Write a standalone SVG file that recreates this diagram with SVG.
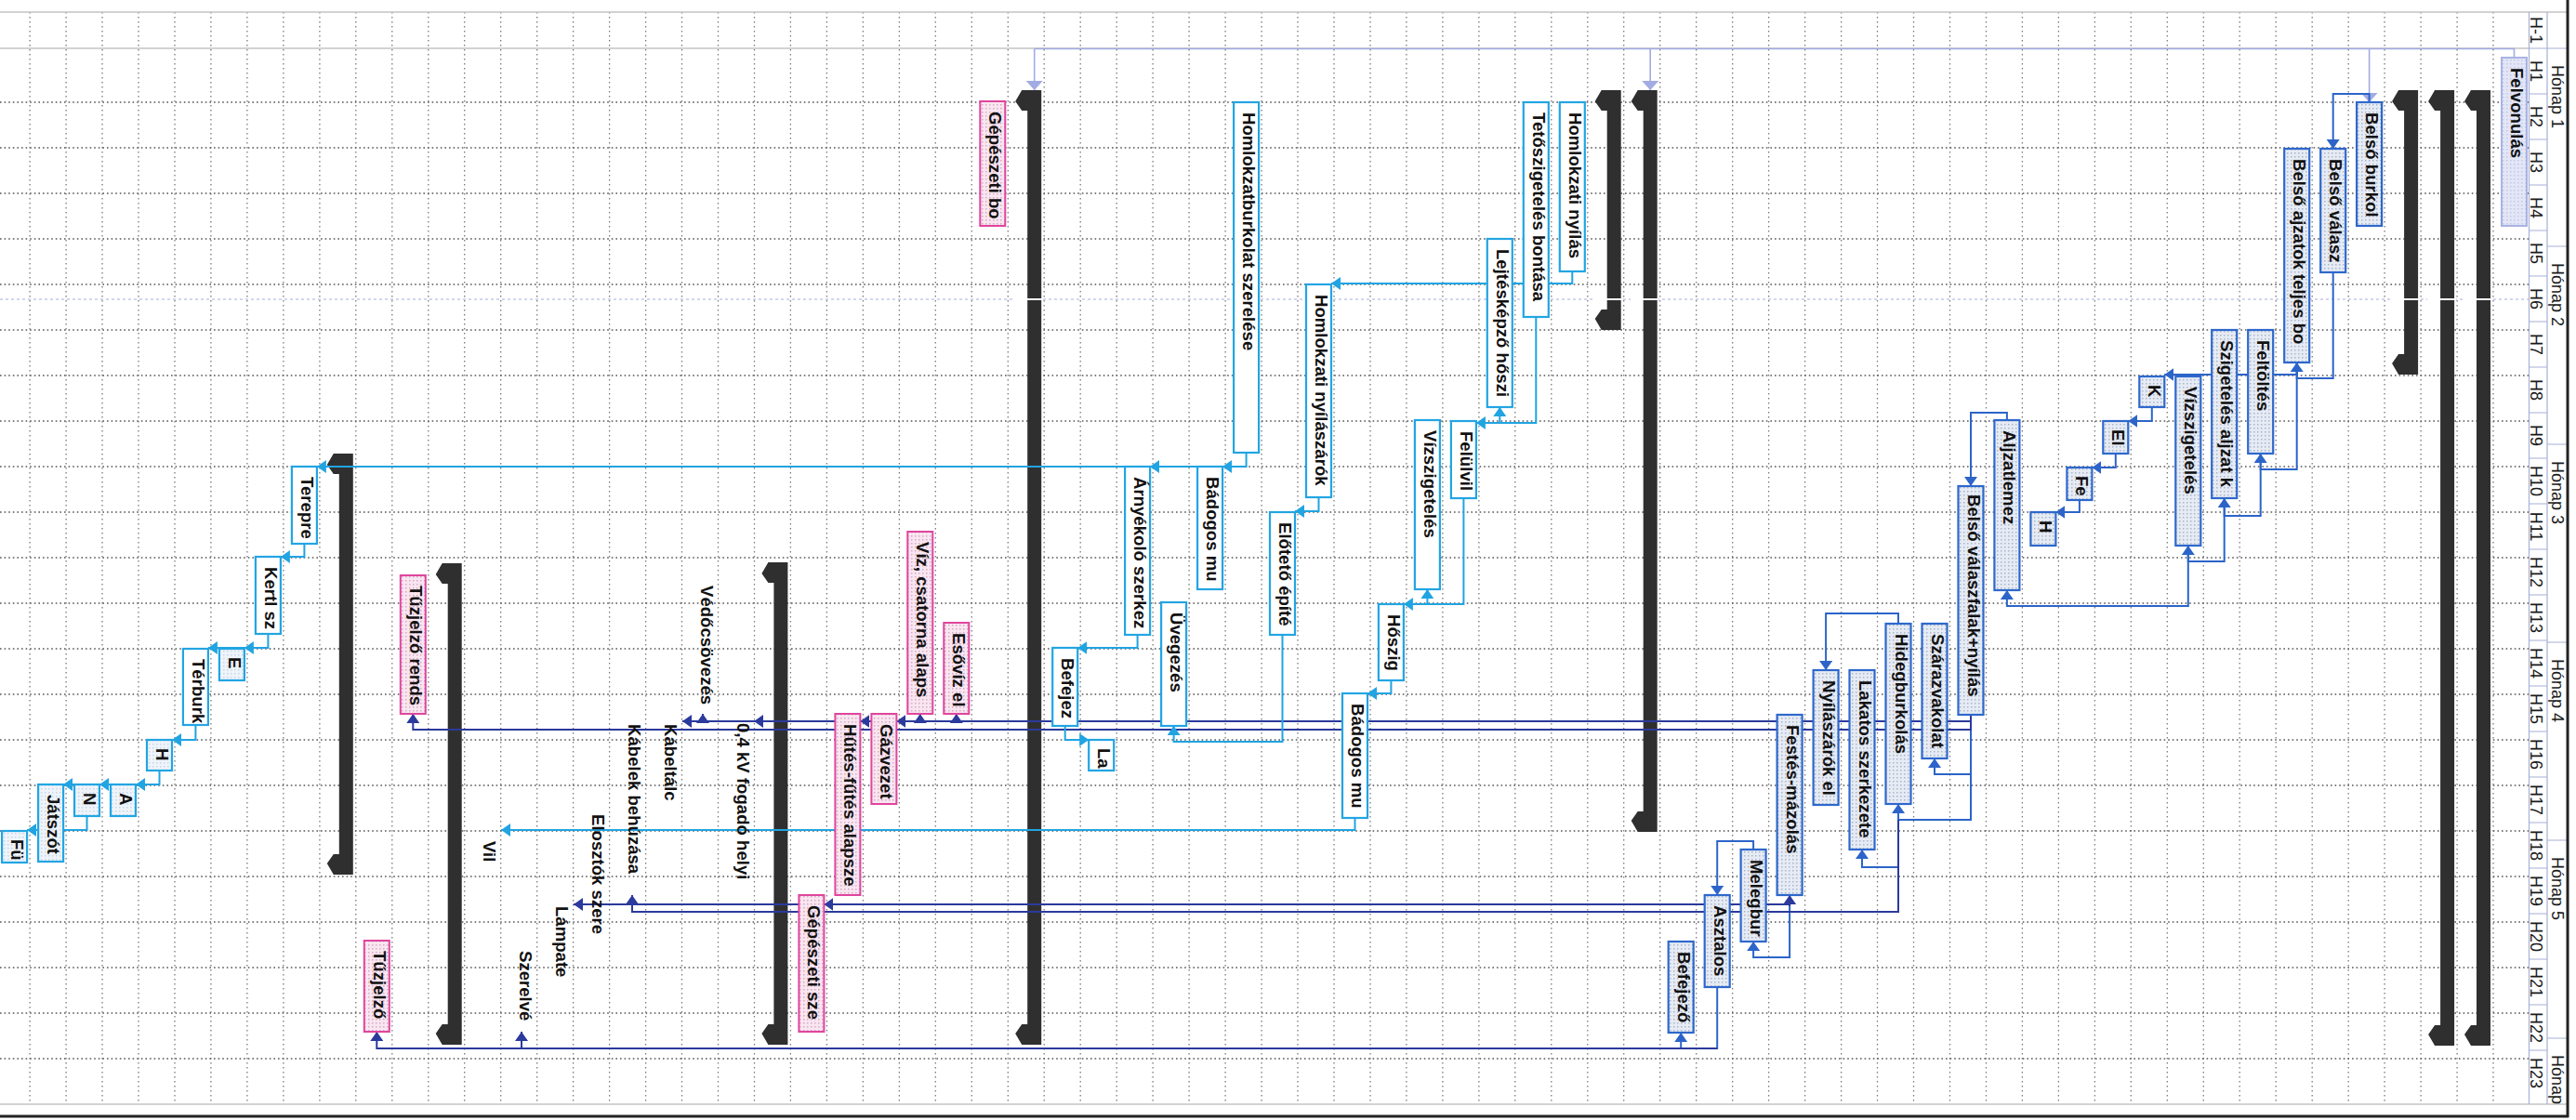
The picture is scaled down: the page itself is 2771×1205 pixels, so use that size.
<svg xmlns="http://www.w3.org/2000/svg" width="2771" height="1205" viewBox="0 0 2771 1205">
<style>
.t{font-family:"Liberation Sans",Arial,sans-serif;font-weight:bold;font-size:18.6px;fill:#111}
.hd{font-family:"Liberation Sans",Arial,sans-serif;font-size:18px;fill:#1a1a1a}
.bb{fill:url(#pb);stroke:#2e68cc;stroke-width:2.2}
.bc{fill:#fff;stroke:#22a5e3;stroke-width:2.2}
.bc2{fill:url(#pc);stroke:#22a5e3;stroke-width:2.2}
.bp{fill:url(#pp);stroke:#e0459e;stroke-width:2}
.bl{fill:url(#pl);stroke:#a9b3e4;stroke-width:2}
.sum{fill:#2f2f2f}
.gv{fill:none;stroke:#7a7a7a;stroke-width:1.3;stroke-dasharray:1.5 3.5}
.gh{fill:none;stroke:#555;stroke-width:1.4;stroke-dasharray:1.6 3}
.hl{fill:none;stroke:#a7b0d8;stroke-width:1.2}
.cb{fill:none;stroke:#2c64c9;stroke-width:2;marker-end:url(#mb)}
.cc{fill:none;stroke:#20a4e2;stroke-width:2;marker-end:url(#mc)}
.cn{fill:none;stroke:#2b3a9c;stroke-width:2;marker-end:url(#mn)}
.cl{fill:none;stroke:#a3abe3;stroke-width:1.6;marker-end:url(#ml)}
</style>
<defs>
<pattern id="pb" width="4" height="4" patternUnits="userSpaceOnUse"><rect width="4" height="4" fill="#e6ebf4"/><rect width="1.5" height="1.5" fill="#aab6cc"/></pattern>
<pattern id="pc" width="4" height="4" patternUnits="userSpaceOnUse"><rect width="4" height="4" fill="#eef4fa"/><rect width="1.5" height="1.5" fill="#c8d6e6"/></pattern>
<pattern id="pp" width="4" height="4" patternUnits="userSpaceOnUse"><rect width="4" height="4" fill="#f8e6f0"/><rect width="1.5" height="1.5" fill="#d9a9c4"/></pattern>
<pattern id="pl" width="4" height="4" patternUnits="userSpaceOnUse"><rect width="4" height="4" fill="#e3e6f6"/><rect width="1.5" height="1.5" fill="#c2c8e6"/></pattern>
<marker id="mb" viewBox="0 0 10 14" refX="10" refY="7" markerWidth="10" markerHeight="14" markerUnits="userSpaceOnUse" orient="auto"><path d="M0,0L10,7L0,14z" fill="#2c64c9"/></marker>
<marker id="mc" viewBox="0 0 10 14" refX="10" refY="7" markerWidth="10" markerHeight="14" markerUnits="userSpaceOnUse" orient="auto"><path d="M0,0L10,7L0,14z" fill="#20a4e2"/></marker>
<marker id="mn" viewBox="0 0 10 14" refX="10" refY="7" markerWidth="10" markerHeight="14" markerUnits="userSpaceOnUse" orient="auto"><path d="M0,0L10,7L0,14z" fill="#2b3a9c"/></marker>
<marker id="ml" viewBox="0 0 10 18" refX="10" refY="9" markerWidth="10" markerHeight="18" markerUnits="userSpaceOnUse" orient="auto"><path d="M0,0L10,9L0,18z" fill="#a3abe3"/></marker>
</defs>
<rect width="2771" height="1205" fill="#fff"/>
<g id="grid">
<path class="gv" d="M2682.0,13V1188M2643.1,13V1188M2604.1,13V1188M2565.1,13V1188M2526.2,13V1188M2487.2,13V1188M2448.2,13V1188M2409.2,13V1188M2370.3,13V1188M2331.3,13V1188M2292.3,13V1188M2253.4,13V1188M2214.4,13V1188M2175.4,13V1188M2136.5,13V1188M2097.5,13V1188M2058.5,13V1188M2019.5,13V1188M1980.6,13V1188M1941.6,13V1188M1902.6,13V1188M1863.7,13V1188M1824.7,13V1188M1785.7,13V1188M1746.7,13V1188M1707.8,13V1188M1668.8,13V1188M1629.8,13V1188M1590.9,13V1188M1551.9,13V1188M1512.9,13V1188M1474.0,13V1188M1435.0,13V1188M1396.0,13V1188M1357.1,13V1188M1318.1,13V1188M1279.1,13V1188M1240.1,13V1188M1201.2,13V1188M1162.2,13V1188M1123.2,13V1188M1084.3,13V1188M1045.3,13V1188M1006.3,13V1188M967.4,13V1188M928.4,13V1188M889.4,13V1188M850.4,13V1188M811.5,13V1188M772.5,13V1188M733.5,13V1188M694.6,13V1188M655.6,13V1188M616.6,13V1188M577.7,13V1188M538.7,13V1188M499.7,13V1188M460.8,13V1188M421.8,13V1188M382.8,13V1188M343.9,13V1188M304.9,13V1188M265.9,13V1188M226.9,13V1188M188.0,13V1188M149.0,13V1188M110.0,13V1188M71.1,13V1188M32.1,13V1188"/>
<path class="gh" d="M0,110H2720M0,159H2720M0,208H2720M0,257H2720M0,306H2720M0,355H2720M0,404H2720M0,453H2720M0,502H2720M0,551H2720M0,600H2720M0,649H2720M0,698H2720M0,747H2720M0,796H2720M0,845H2720M0,894H2720M0,943H2720M0,992H2720M0,1041H2720M0,1090H2720M0,1139H2720"/>
<path d="M0,13H2762M0,52H2720M0,1188H2762" fill="none" stroke="#c4c4c4" stroke-width="1.4"/>
<path d="M0,322H2720" fill="none" stroke="#c3c9e6" stroke-width="1.4" stroke-dasharray="3 3"/>
</g>
<g id="header">
<path class="hl" d="M2720.5,13V1188M2740,13V1188M2720.5,52H2740M2720.5,101H2740M2720.5,150H2740M2720.5,199H2740M2720.5,248H2740M2720.5,297H2740M2720.5,346H2740M2720.5,395H2740M2720.5,444H2740M2720.5,493H2740M2720.5,542H2740M2720.5,591H2740M2720.5,640H2740M2720.5,689H2740M2720.5,738H2740M2720.5,787H2740M2720.5,836H2740M2720.5,885H2740M2720.5,934H2740M2720.5,983H2740M2720.5,1032H2740M2720.5,1081H2740M2720.5,1130H2740M2740,52H2762M2740,265H2762M2740,478H2762M2740,691H2762M2740,904H2762M2740,1117H2762"/>
<g class="hd" text-anchor="middle">
<text transform="translate(2721.5,32.5) rotate(90)">H-1</text>
<text transform="translate(2721.5,76.5) rotate(90)">H1</text>
<text transform="translate(2721.5,125.5) rotate(90)">H2</text>
<text transform="translate(2721.5,174.5) rotate(90)">H3</text>
<text transform="translate(2721.5,223.5) rotate(90)">H4</text>
<text transform="translate(2721.5,272.5) rotate(90)">H5</text>
<text transform="translate(2721.5,321.5) rotate(90)">H6</text>
<text transform="translate(2721.5,370.5) rotate(90)">H7</text>
<text transform="translate(2721.5,419.5) rotate(90)">H8</text>
<text transform="translate(2721.5,468.5) rotate(90)">H9</text>
<text transform="translate(2721.5,517.5) rotate(90)">H10</text>
<text transform="translate(2721.5,566.5) rotate(90)">H11</text>
<text transform="translate(2721.5,615.5) rotate(90)">H12</text>
<text transform="translate(2721.5,664.5) rotate(90)">H13</text>
<text transform="translate(2721.5,713.5) rotate(90)">H14</text>
<text transform="translate(2721.5,762.5) rotate(90)">H15</text>
<text transform="translate(2721.5,811.5) rotate(90)">H16</text>
<text transform="translate(2721.5,860.5) rotate(90)">H17</text>
<text transform="translate(2721.5,909.5) rotate(90)">H18</text>
<text transform="translate(2721.5,958.5) rotate(90)">H19</text>
<text transform="translate(2721.5,1007.5) rotate(90)">H20</text>
<text transform="translate(2721.5,1056.5) rotate(90)">H21</text>
<text transform="translate(2721.5,1105.5) rotate(90)">H22</text>
<text transform="translate(2721.5,1154.5) rotate(90)">H23</text>
</g>
<g class="hd">
<text transform="translate(2744.5,70) rotate(90)">Hónap 1</text>
<text transform="translate(2744.5,283) rotate(90)">Hónap 2</text>
<text transform="translate(2744.5,496) rotate(90)">Hónap 3</text>
<text transform="translate(2744.5,709) rotate(90)">Hónap 4</text>
<text transform="translate(2744.5,922) rotate(90)">Hónap 5</text>
<text transform="translate(2744.5,1135) rotate(90)">Hónap</text>
</g>
<path d="M2762,0V1202M0,1201H2763" fill="none" stroke="#222" stroke-width="3"/>
</g>
<g id="summaries">
<polygon id="s1" class="sum" points="2679,97 2658,97 2651,109 2658,119 2664,119 2664,1103 2658,1103 2651,1113 2658,1125 2679,1125"/>
<polygon id="s2" class="sum" points="2640.1,97 2619.1,97 2612.1,109 2619.1,119 2625.1,119 2625.1,1103 2619.1,1103 2612.1,1113 2619.1,1125 2640.1,1125"/>
<polygon id="s3" class="sum" points="2601.1,97 2580.1,97 2573.1,109 2580.1,119 2586.1,119 2586.1,381 2580.1,381 2573.1,391 2580.1,403 2601.1,403"/>
<polygon id="s24" class="sum" points="1782.7,97 1761.7,97 1754.7,109 1761.7,119 1767.7,119 1767.7,873 1761.7,873 1754.7,883 1761.7,895 1782.7,895"/>
<polygon id="s25" class="sum" points="1743.7,97 1722.7,97 1715.7,109 1722.7,119 1728.7,119 1728.7,333 1722.7,333 1715.7,343 1722.7,355 1743.7,355"/>
<polygon id="s41" class="sum" points="1120.2,97 1099.2,97 1092.2,109 1099.2,119 1105.2,119 1105.2,1102 1099.2,1102 1092.2,1112 1099.2,1124 1120.2,1124"/>
<polygon id="s48" class="sum" points="847.4,605 826.4,605 819.4,617 826.4,627 832.4,627 832.4,1102 826.4,1102 819.4,1112 826.4,1124 847.4,1124"/>
<polygon id="s57" class="sum" points="496.7,606 475.7,606 468.7,618 475.7,628 481.7,628 481.7,1102 475.7,1102 468.7,1112 475.7,1124 496.7,1124"/>
<polygon id="s60" class="sum" points="379.8,488 358.8,488 351.8,500 358.8,510 364.8,510 364.8,919 358.8,919 351.8,929 358.8,941 379.8,941"/>
<path d="M2650,322H2681M2611,322H2642M2572,322H2603M1754,322H1784M1715,322H1745M1091,322H1122" stroke="#fff" stroke-width="2.2"/>
</g>
<g id="connectors">
<path d="M2704.5,62V52.5H1112.7" fill="none" stroke="#a3abe3" stroke-width="1.6"/>
<path class="cl" d="M2548.6,52.5V110"/>
<path class="cl" d="M1775.2,52.5V97"/>
<path class="cl" d="M1112.7,52.5V97"/>
<path class="cb" d="M2548.6,110V101H2509.7V160"/>
<path class="cb" d="M2509.7,293V407H2470.7V390"/>
<path class="cb" d="M2470.7,390V403H2328.3"/>
<path class="cb" d="M2470.7,390V505H2431.7V488"/>
<path class="cb" d="M2431.7,488V555H2392.7V536"/>
<path class="cb" d="M2392.7,536V604H2353.8V587"/>
<path class="cb" d="M2353.8,587V652H2158.9V635"/>
<path class="cb" d="M2314.8,438V453H2289.3"/>
<path class="cb" d="M2275.8,488V503H2250.4"/>
<path class="cb" d="M2236.9,538V551H2211.4"/>
<path class="cb" d="M2158.9,452V444H2120V523"/>
<path class="cb" d="M2120,769V833H2081V816"/>
<path class="cb" d="M2120,769V882H2042V865"/>
<path class="cb" d="M2042,671V660H1964.1V721"/>
<path class="cb" d="M2042,865V933H2003V914"/>
<path class="cb" d="M1925.1,963V1030H1886.1V1013"/>
<path class="cb" d="M1886.1,914V905H1847.2V963"/>
<path class="cb" d="M1847.2,1062V1128H1808.2V1111"/>
<path class="cn" d="M2120,769V776H734"/>
<path class="cn" d="M756,776V768"/>
<path class="cn" d="M1028.8,776V768"/>
<path class="cn" d="M989.8,776V768"/>
<path class="cn" d="M985,776H964.4"/>
<path class="cn" d="M945,776H925.4"/>
<path class="cn" d="M830,776H811"/>
<path class="cn" d="M2120,776V785H444.3V768"/>
<path class="cn" d="M1925.1,973H617"/>
<path class="cn" d="M1925.1,975V963"/>
<path class="cn" d="M905,973H886.4"/>
<path class="cn" d="M2042,882V981H680V963"/>
<path class="cn" d="M1847.2,1128H405.3V1110"/>
<path class="cn" d="M561,1128V1110"/>
<path class="cc" d="M1691.3,292V305H1432"/>
<path class="cc" d="M1652.3,341V455H1613.3V438"/>
<path class="cc" d="M1613.3,455H1587.9"/>
<path class="cc" d="M1574.4,536V650H1535.4V634"/>
<path class="cc" d="M1535.4,650H1509.9"/>
<path class="cc" d="M1496.4,732V746H1471"/>
<path class="cc" d="M1457.5,880V893H539"/>
<path class="cc" d="M1418.5,535V550H1393"/>
<path class="cc" d="M1379.5,683V798H1262.6V781"/>
<path class="cc" d="M1340.6,487V502H1315.1"/>
<path class="cc" d="M1340.6,502H1237.1"/>
<path class="cc" d="M1340.6,502H340.9"/>
<path class="cc" d="M1223.6,683V697H1159.2"/>
<path class="cc" d="M1145.7,781V796H1171.2"/>
<path class="cc" d="M327.4,585V599H301.9"/>
<path class="cc" d="M288.4,682V697H262.9"/>
<path class="cc" d="M288.4,697H223.9"/>
<path class="cc" d="M210.4,780V796H185"/>
<path class="cc" d="M171.5,829V844H146"/>
<path class="cc" d="M171.5,844H107"/>
<path class="cc" d="M171.5,844H68.1"/>
<path class="cc" d="M93.5,878V893H29.1"/>
</g>
<g id="n-felvonulas"><rect class="bl" x="2691" y="62" width="27" height="181"/><text class="t" transform="translate(2701,73) rotate(90)">Felvonulás</text></g>
<g id="n-belso-burkol"><rect class="bb" x="2535.1" y="110" width="27" height="133"/><text class="t" transform="translate(2545.1,121) rotate(90)">Belső burkol</text></g>
<g id="n-belso-valasz"><rect class="bb" x="2496.2" y="160" width="27" height="133"/><text class="t" transform="translate(2506.2,171) rotate(90)">Belső válasz</text></g>
<g id="n-belso-ajzatok"><rect class="bb" x="2457.2" y="160" width="27" height="230"/><text class="t" transform="translate(2467.2,171) rotate(90)">Belső ajzatok teljes bo</text></g>
<g id="n-feltoltes"><rect class="bb" x="2418.2" y="355" width="27" height="133"/><text class="t" transform="translate(2428.2,366) rotate(90)">Feltöltés</text></g>
<g id="n-szig-aljzat"><rect class="bb" x="2379.2" y="355" width="27" height="181"/><text class="t" transform="translate(2389.2,366) rotate(90)">Szigetelés aljzat k</text></g>
<g id="n-vizszig1"><rect class="bb" x="2340.3" y="405" width="27" height="182"/><text class="t" transform="translate(2350.3,416) rotate(90)">Vízszigetelés</text></g>
<g id="n-k"><rect class="bb" x="2301.3" y="405" width="27" height="33"/><text class="t" transform="translate(2311.3,414) rotate(90)">K</text></g>
<g id="n-el"><rect class="bb" x="2262.3" y="453" width="27" height="35"/><text class="t" transform="translate(2272.3,462) rotate(90)">El</text></g>
<g id="n-fe"><rect class="bb" x="2223.4" y="503" width="27" height="35"/><text class="t" transform="translate(2233.4,512) rotate(90)">Fe</text></g>
<g id="n-h1"><rect class="bb" x="2184.4" y="551" width="27" height="36"/><text class="t" transform="translate(2194.4,560) rotate(90)">H</text></g>
<g id="n-aljzatlemez"><rect class="bb" x="2145.4" y="452" width="27" height="183"/><text class="t" transform="translate(2155.4,463) rotate(90)">Aljzatlemez</text></g>
<g id="n-valaszfalak"><rect class="bb" x="2106.5" y="523" width="27" height="246"/><text class="t" transform="translate(2116.5,532) rotate(90)">Belső válaszfalak+nyílás</text></g>
<g id="n-szarazvakolat"><rect class="bb" x="2067.5" y="671" width="27" height="145"/><text class="t" transform="translate(2077.5,682) rotate(90)">Szárazvakolat</text></g>
<g id="n-hidegburkolas"><rect class="bb" x="2028.5" y="671" width="27" height="194"/><text class="t" transform="translate(2038.5,682) rotate(90)">Hidegburkolás</text></g>
<g id="n-lakatos"><rect class="bb" x="1989.5" y="721" width="27" height="193"/><text class="t" transform="translate(1999.5,732) rotate(90)">Lakatos szerkezete</text></g>
<g id="n-nyilaszarok-el"><rect class="bb" x="1950.6" y="721" width="27" height="145"/><text class="t" transform="translate(1960.6,732) rotate(90)">Nyílászárók el</text></g>
<g id="n-festes"><rect class="bb" x="1911.6" y="769" width="27" height="194"/><text class="t" transform="translate(1921.6,780) rotate(90)">Festés-mázolás</text></g>
<g id="n-melegbur"><rect class="bb" x="1872.6" y="914" width="27" height="99"/><text class="t" transform="translate(1882.6,925) rotate(90)">Melegbur</text></g>
<g id="n-asztalos"><rect class="bb" x="1833.7" y="963" width="27" height="99"/><text class="t" transform="translate(1843.7,974) rotate(90)">Asztalos</text></g>
<g id="n-befejezo"><rect class="bb" x="1794.7" y="1013" width="27" height="98"/><text class="t" transform="translate(1804.7,1024) rotate(90)">Befejező</text></g>
<g id="n-homl-nyilas"><rect class="bc" x="1677.8" y="110" width="27" height="182"/><text class="t" transform="translate(1687.8,121) rotate(90)">Homlokzati nyílás</text></g>
<g id="n-tetoszig"><rect class="bc" x="1638.8" y="110" width="27" height="231"/><text class="t" transform="translate(1648.8,121) rotate(90)">Tetőszigetelés bontása</text></g>
<g id="n-lejteskepzo"><rect class="bc" x="1599.8" y="257" width="27" height="181"/><text class="t" transform="translate(1609.8,268) rotate(90)">Lejtésképző hőszi</text></g>
<g id="n-felulvil"><rect class="bc" x="1560.9" y="453" width="27" height="83"/><text class="t" transform="translate(1570.9,464) rotate(90)">Felülvil</text></g>
<g id="n-vizszig2"><rect class="bc" x="1521.9" y="452" width="27" height="182"/><text class="t" transform="translate(1531.9,463) rotate(90)">Vízszigetelés</text></g>
<g id="n-hoszig"><rect class="bc" x="1482.9" y="650" width="27" height="82"/><text class="t" transform="translate(1492.9,661) rotate(90)">Hőszig</text></g>
<g id="n-badogos1"><rect class="bc" x="1444" y="746" width="27" height="134"/><text class="t" transform="translate(1454,757) rotate(90)">Bádogos mu</text></g>
<g id="n-homl-nyilaszarok"><rect class="bc" x="1405" y="306" width="27" height="229"/><text class="t" transform="translate(1415,317) rotate(90)">Homlokzati nyílászárók</text></g>
<g id="n-eloteto"><rect class="bc" x="1366" y="551" width="27" height="132"/><text class="t" transform="translate(1376,562) rotate(90)">Előtető építé</text></g>
<g id="n-homlokzatburkolat"><rect class="bc" x="1327.1" y="110" width="27" height="377"/><text class="t" transform="translate(1337.1,121) rotate(90)">Homlokzatburkolat szerelése</text></g>
<g id="n-badogos2"><rect class="bc" x="1288.1" y="502" width="27" height="132"/><text class="t" transform="translate(1298.1,513) rotate(90)">Bádogos mu</text></g>
<g id="n-uvegezes"><rect class="bc" x="1249.1" y="648" width="27" height="133"/><text class="t" transform="translate(1259.1,659) rotate(90)">Üvegezés</text></g>
<g id="n-arnyekolo"><rect class="bc" x="1210.1" y="502" width="27" height="181"/><text class="t" transform="translate(1220.1,513) rotate(90)">Árnyékoló szerkez</text></g>
<g id="n-la"><rect class="bc" x="1171.2" y="796" width="27" height="33"/><text class="t" transform="translate(1181.2,805) rotate(90)">La</text></g>
<g id="n-befejez"><rect class="bc" x="1132.2" y="697" width="27" height="84"/><text class="t" transform="translate(1142.2,708) rotate(90)">Befejez</text></g>
<g id="n-gepeszeti-bo"><rect class="bp" x="1054.3" y="109" width="27" height="134"/><text class="t" transform="translate(1064.3,120) rotate(90)">Gépészeti bo</text></g>
<g id="n-esoviz"><rect class="bp" x="1015.3" y="670" width="27" height="98"/><text class="t" transform="translate(1025.3,681) rotate(90)">Esővíz el</text></g>
<g id="n-viz-csatorna"><rect class="bp" x="976.3" y="572" width="27" height="196"/><text class="t" transform="translate(986.3,583) rotate(90)">Víz, csatorna alaps</text></g>
<g id="n-gazvezet"><rect class="bp" x="937.4" y="768" width="27" height="97"/><text class="t" transform="translate(947.4,779) rotate(90)">Gázvezet</text></g>
<g id="n-hutes"><rect class="bp" x="898.4" y="768" width="27" height="195"/><text class="t" transform="translate(908.4,779) rotate(90)">Hűtés-fűtés alapsze</text></g>
<g id="n-gepeszeti-sze"><rect class="bp" x="859.4" y="963" width="27" height="147"/><text class="t" transform="translate(869.4,974) rotate(90)">Gépészeti sze</text></g>
<g id="n-vedocso"><text class="t" transform="translate(753.5,630) rotate(90)">Védőcsövezés</text></g>
<g id="n-fogado"><text class="t" transform="translate(792.5,778) rotate(90)">0,4 kV fogadó helyi</text></g>
<g id="n-kabeltalc"><text class="t" transform="translate(714.5,779) rotate(90)">Kábeltálc</text></g>
<g id="n-kabelek"><text class="t" transform="translate(675.6,779) rotate(90)">Kábelek behúzása</text></g>
<g id="n-elosztok"><text class="t" transform="translate(636.6,876) rotate(90)">Elosztók szere</text></g>
<g id="n-lampate"><text class="t" transform="translate(597.6,975) rotate(90)">Lámpate</text></g>
<g id="n-szerelve"><text class="t" transform="translate(558.7,1023) rotate(90)">Szerelvé</text></g>
<g id="n-vil"><text class="t" transform="translate(519.7,905) rotate(90)">Vil</text></g>
<g id="n-tuzjelzo-rends"><rect class="bp" x="430.8" y="619" width="27" height="149"/><text class="t" transform="translate(440.8,630) rotate(90)">Tűzjelző rends</text></g>
<g id="n-tuzjelzo"><rect class="bp" x="391.8" y="1012" width="27" height="98"/><text class="t" transform="translate(401.8,1023) rotate(90)">Tűzjelző</text></g>
<g id="n-terepre"><rect class="bc" x="313.9" y="502" width="27" height="83"/><text class="t" transform="translate(323.9,513) rotate(90)">Terepre</text></g>
<g id="n-kertl"><rect class="bc" x="274.9" y="599" width="27" height="83"/><text class="t" transform="translate(284.9,610) rotate(90)">Kertl sz</text></g>
<g id="n-e"><rect class="bc2" x="235.9" y="698" width="27" height="34"/><text class="t" transform="translate(245.9,707) rotate(90)">E</text></g>
<g id="n-terburk"><rect class="bc" x="196.9" y="698" width="27" height="82"/><text class="t" transform="translate(206.9,709) rotate(90)">Térburk</text></g>
<g id="n-h2"><rect class="bc2" x="158" y="796" width="27" height="33"/><text class="t" transform="translate(168,805) rotate(90)">H</text></g>
<g id="n-a"><rect class="bc2" x="119" y="844" width="27" height="34"/><text class="t" transform="translate(129,853) rotate(90)">A</text></g>
<g id="n-n"><rect class="bc2" x="80" y="844" width="27" height="34"/><text class="t" transform="translate(90,853) rotate(90)">N</text></g>
<g id="n-jatszot"><rect class="bc2" x="41.1" y="844" width="27" height="83"/><text class="t" transform="translate(51.1,855) rotate(90)">Játszót</text></g>
<g id="n-fu"><rect class="bc2" x="2.1" y="894" width="27" height="34"/><text class="t" transform="translate(12.1,903) rotate(90)">Fü</text></g>
</svg>
